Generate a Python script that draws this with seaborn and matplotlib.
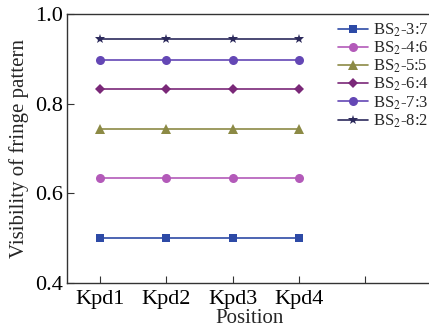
import matplotlib
matplotlib.use("Agg")
import matplotlib.pyplot as plt
import seaborn as sns
import pandas as pd

positions = ["Kpd1", "Kpd2", "Kpd3", "Kpd4"]
series_names = ["BS$_2$-3:7", "BS$_2$-4:6", "BS$_2$-5:5", "BS$_2$-6:4", "BS$_2$-7:3", "BS$_2$-8:2"]
v_37 = [0.500, 0.500, 0.500, 0.500]
v_46 = [0.634, 0.634, 0.634, 0.634]
v_55 = [0.744, 0.744, 0.744, 0.744]
v_64 = [0.833, 0.833, 0.833, 0.833]
v_73 = [0.897, 0.897, 0.897, 0.897]
v_82 = [0.944, 0.944, 0.944, 0.944]
all_vals = [v_37, v_46, v_55, v_64, v_73, v_82]

colors = ["#2d4aa6", "#b35ab9", "#8c8a45", "#7a2878", "#6447b5", "#2c2a5c"]
markers = ["s", "o", "^", "D", "o", "*"]
msizes = [5.5, 6.5, 6.5, 5, 6.5, 7]

rows = []
for name, vals in zip(series_names, all_vals):
    for i, v in enumerate(vals):
        rows.append({"pos": i + 1, "val": v, "series": name})
df = pd.DataFrame(rows)

sns.set_theme(style="ticks")
plt.rcParams["font.family"] = ["Liberation Serif", "DejaVu Serif"]
plt.rcParams["mathtext.fontset"] = "stix"

fig = plt.figure(figsize=(4.29, 3.34), dpi=100)
ax = fig.add_axes([0.156, 0.153, 0.85, 0.805])

for name, c, m, ms in zip(series_names, colors, markers, msizes):
    sub = df[df["series"] == name]
    sns.lineplot(data=sub, x="pos", y="val", ax=ax, color=c, marker=m,
                 markersize=ms, markeredgewidth=0, linewidth=1.2, label=name)

ax.set_xlim(0.5, 6.0)
ax.set_ylim(0.4, 1.0)
ax.set_xticks([1, 2, 3, 4, 5])
ax.set_xticklabels(positions + [""])
ax.set_yticks([0.4, 0.6, 0.8, 1.0])
ax.set_yticklabels(["0.4", "0.6", "0.8", "1.0"])
ax.tick_params(axis="both", labelsize=16, direction="in", length=5, width=0.8, colors="#333333", labelcolor="black")
ax.tick_params(axis="x", pad=5)
ax.tick_params(axis="y", pad=3)
ax.set_xlabel("Position", fontsize=15, labelpad=0)
ax.set_ylabel("Visibility of fringe pattern", fontsize=15, labelpad=4)
for s in ["left", "bottom", "top"]:
    ax.spines[s].set_color("#333333")
    ax.spines[s].set_linewidth(1.0)
ax.spines["right"].set_visible(False)

leg = ax.legend(loc="upper right", bbox_to_anchor=(1.02, 1.01), frameon=False, fontsize=12,
                handlelength=1.8, handletextpad=0.3, labelspacing=0.05, borderpad=0.1)

fig.savefig("out.png", dpi=100)
